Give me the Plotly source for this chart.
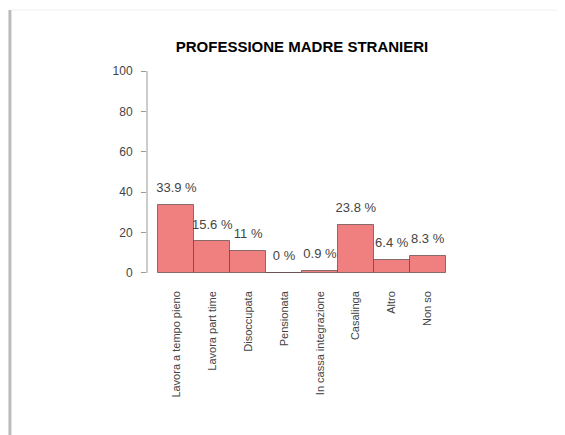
import plotly.graph_objects as go

# data
categorie = ["Lavora a tempo pieno", "Lavora part time", "Disoccupata", "Pensionata",
             "In cassa integrazione", "Casalinga", "Altro", "Non so"]
percentuali = [33.9, 15.6, 11, 0, 0.9, 23.8, 6.4, 8.3]
y_ticks = [0, 20, 40, 60, 80, 100]
titolo = "PROFESSIONE MADRE STRANIERI"

W, H = 565, 435
OFF = 8  # page body margin: the figure starts 8px in from the window corner
L, R, T, B = 146.5 - OFF, W - 457.5 + OFF, 63 - OFF, H - 281 + OFF
pw, ph = W - L - R, H - T - B


def px_x(x):
    # window pixel -> paper coordinate
    return (x - OFF - L) / pw


def px_y(y):
    return (H - B - (y - OFF)) / ph


FONT = "Liberation Sans, Arial, sans-serif"

fig = go.Figure()
fig.add_trace(go.Bar(
    x=categorie, y=percentuali, width=1,
    marker=dict(color="#F08080", line=dict(color="rgba(90,70,70,0.7)", width=1)),
    hoverinfo="skip",
))
# percentage labels above the bars
fig.add_trace(go.Scatter(
    x=categorie, y=[v + 8 for v in percentuali],
    mode="text", text=[f"{v:g} %" for v in percentuali],
    textposition="middle center",
    textfont=dict(family=FONT, size=13, color="#444"),
    hoverinfo="skip",
))

fig.update_layout(
    width=W, height=H, showlegend=False,
    margin=dict(l=L, r=R, t=T, b=B, pad=0),
    paper_bgcolor="white", plot_bgcolor="white",
    bargap=0,
    title=dict(text=titolo, x=px_x(302), xref="paper", xanchor="center",
               y=1 - (47 - OFF) / H, yref="container", yanchor="middle",
               font=dict(family=FONT, size=15, color="black", weight="bold")),
)
fig.update_xaxes(range=[-0.82, 7.82], showgrid=False, zeroline=False, showline=False,
                 ticks="", tickangle=-90, ticklabelstandoff=7,
                 tickfont=dict(family=FONT, size=11, color="#444"))
fig.update_yaxes(range=[-4, 104], tickvals=y_ticks, showgrid=False, zeroline=False,
                 showline=False, ticks="outside", ticklen=5, tickcolor="#999",
                 ticklabelstandoff=6,
                 tickfont=dict(family=FONT, size=12, color="#444"))

# y axis line only over 0..100, like the R base plot
fig.add_shape(type="line", xref="paper", yref="y", x0=0, x1=0, y0=0, y1=100,
              line=dict(color="#999", width=1))
# frame of the screenshot: grey left edge and faint top line
fig.add_shape(type="line", xref="paper", yref="paper", x0=px_x(9), x1=px_x(9),
              y0=px_y(10), y1=px_y(H + 10), line=dict(color="#bbb", width=3))
fig.add_shape(type="line", xref="paper", yref="paper", x0=px_x(10), x1=px_x(W + 10),
              y0=px_y(10), y1=px_y(10), line=dict(color="#eee", width=1))

fig.write_html("out.html")
